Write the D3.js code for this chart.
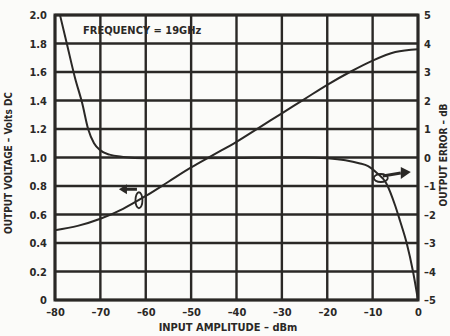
<!DOCTYPE html>
<html><head><meta charset="utf-8">
<script src="https://cdn.jsdelivr.net/npm/d3@7"></script>
<style>
html,body{margin:0;padding:0;background:#fbfbf9;}
svg{display:block;}
text{font-family:"Liberation Sans Narrow","Arial Narrow","DejaVu Sans Condensed",sans-serif;font-weight:bold;fill:#2a2826;}
</style></head>
<body>
<script>
const xTicks = [-80,-70,-60,-50,-40,-30,-20,-10,0];
const voltTicks = [0,0.2,0.4,0.6,0.8,1.0,1.2,1.4,1.6,1.8,2.0];
const errTicks = [-5,-4,-3,-2,-1,0,1,2,3,4,5];

const voltDbm = [-80,-75,-70,-65,-60,-55,-50,-45,-40,-35,-30,-25,-20,-15,-10,-5,0];
const outputVolts = [0.49,0.52,0.57,0.64,0.73,0.83,0.93,1.02,1.11,1.21,1.31,1.41,1.51,1.60,1.68,1.74,1.76];

const errDbm = [-78.9,-77.4,-75.6,-74,-72.7,-71.4,-70,-68,-65,-60,-50,-40,-30,-25,-20,-16,-13,-11,-9,-7,-5,-4,-2.5,-1.1,0];
const outputError = [5.0,4.0,2.8,1.9,1.0,0.5,0.25,0.1,0.02,-0.03,-0.03,-0.02,0.0,0.0,-0.03,-0.1,-0.2,-0.3,-0.55,-0.9,-1.7,-2.2,-3.0,-4.0,-5.0];

const W=450,H=336;
const m={l:55,r:32,t:15,b:36};
const svg=d3.select("body").append("svg").attr("width",W).attr("height",H);
const x=d3.scaleLinear().domain([-80,0]).range([m.l,W-m.r]);
const yV=d3.scaleLinear().domain([0,2]).range([H-m.b,m.t]);
const yE=d3.scaleLinear().domain([-5,5]).range([H-m.b,m.t]);
const ink="#2a2826";

// grid
const g=svg.append("g");
g.selectAll("line.v").data(xTicks).join("line")
 .attr("x1",d=>x(d)).attr("x2",d=>x(d)).attr("y1",m.t).attr("y2",H-m.b)
 .attr("stroke",ink).attr("stroke-width",2.4);
g.selectAll("line.h").data(voltTicks).join("line")
 .attr("y1",d=>yV(d)).attr("y2",d=>yV(d)).attr("x1",m.l).attr("x2",W-m.r)
 .attr("stroke",ink).attr("stroke-width",2.4);
g.append("rect").attr("x",m.l).attr("y",m.t).attr("width",W-m.r-m.l).attr("height",H-m.b-m.t)
 .attr("fill","none").attr("stroke",ink).attr("stroke-width",3);

// axes
const fmtV=d=>d===0?"0":d3.format(".1f")(d);
const fmtM=d=>d<0?"\u2013"+Math.abs(d):String(d);
const ax=svg.append("g").attr("transform",`translate(0,${H-m.b})`)
 .call(d3.axisBottom(x).tickValues(xTicks).tickSize(0).tickPadding(8).tickFormat(fmtM));
const ayl=svg.append("g").attr("transform",`translate(${m.l},0)`)
 .call(d3.axisLeft(yV).tickValues(voltTicks).tickSize(0).tickPadding(8).tickFormat(fmtV));
const ayr=svg.append("g").attr("transform",`translate(${W-m.r},0)`)
 .call(d3.axisRight(yE).tickValues(errTicks).tickSize(0).tickPadding(6).tickFormat(fmtM));
[ax,ayl,ayr].forEach(a=>{a.select(".domain").remove();a.selectAll("text").style("font-size","11px").attr("fill",ink);});

// curves
const lineV=d3.line().x((d,i)=>x(voltDbm[i])).y(d=>yV(d)).curve(d3.curveMonotoneX);
const lineE=d3.line().x((d,i)=>x(errDbm[i])).y(d=>yE(d)).curve(d3.curveMonotoneX);
svg.append("path").attr("d",lineV(outputVolts)).attr("fill","none").attr("stroke",ink).attr("stroke-width",2);
svg.append("path").attr("d",lineE(outputError)).attr("fill","none").attr("stroke",ink).attr("stroke-width",2);

// axis-indicating markers
// left marker: ellipse on voltage curve + arrow pointing left
const lx=x(-61.5), ly=yV(0.70);
svg.append("ellipse").attr("cx",lx).attr("cy",ly).attr("rx",3.5).attr("ry",8).attr("fill","none").attr("stroke",ink).attr("stroke-width",1.8);
svg.append("path").attr("d",`M${lx-2},${ly-11} L${lx-14},${ly-11}`).attr("stroke",ink).attr("stroke-width",3);
svg.append("path").attr("d",`M${lx-20},${ly-11} L${lx-12},${ly-16} L${lx-12},${ly-6} Z`).attr("fill",ink);
// right marker: ellipse on error curve + arrow pointing right
const rx=x(-8.2), ry=yE(-0.72);
svg.append("ellipse").attr("cx",rx).attr("cy",ry).attr("rx",7).attr("ry",4).attr("fill","none").attr("stroke",ink).attr("stroke-width",1.8);
svg.append("path").attr("d",`M${rx+2},${ry-2} L${rx+20},${ry-5}`).attr("stroke",ink).attr("stroke-width",3);
svg.append("path").attr("d",`M${rx+30},${ry-6} L${rx+20},${ry-11} L${rx+20},${ry+1} Z`).attr("fill",ink);

// labels
svg.append("text").attr("x",83).attr("y",34).style("font-size","11px").text("FREQUENCY = 19GHz");
svg.append("text").attr("x",228).attr("y",331).attr("text-anchor","middle").style("font-size","11px").text("INPUT AMPLITUDE \u2013 dBm");
svg.append("text").attr("transform",`translate(12,163) rotate(-90)`).attr("text-anchor","middle").style("font-size","10px").text("OUTPUT VOLTAGE \u2013 Volts DC");
svg.append("text").attr("transform",`translate(447,155) rotate(-90)`).attr("text-anchor","middle").style("font-size","10px").text("OUTPUT ERROR \u2013 dB");
</script>
</body></html>
